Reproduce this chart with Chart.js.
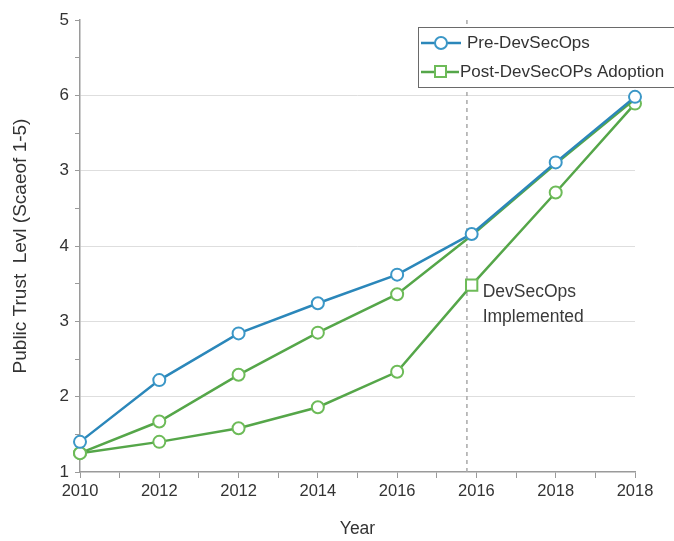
<!DOCTYPE html>
<html>
<head>
<meta charset="utf-8">
<script src="https://cdn.jsdelivr.net/npm/chart.js@4.4.1/dist/chart.umd.min.js"></script>
<style>
    html, body { margin: 0; padding: 0; background: #fff; }
    #trustChart { display: block; }
</style>
</head>
<body>
<canvas id="trustChart" width="674" height="541"></canvas>
<script>
// tick labels exactly as printed on the original figure
const xTickLabels = ['2010', '2012', '2012', '2014', '2016', '2016', '2018', '2018'];
const yTickLabels = ['1', '2', '3', '4', '3', '6', '5'];

// position of each point along the year axis (index space)
const xPositions = [0, 1, 2, 3, 4, 4.94, 6, 7];

const preDevSecOps = [1.40, 2.22, 2.84, 3.24, 3.62, 4.16, 5.11, 5.98];
const postUpper = [1.25, 1.67, 2.29, 2.85, 3.36, 4.14, 5.09, 5.95];
const postLower = [1.25, 1.40, 1.58, 1.86, 2.33, 3.48, 4.71, 5.89];

const implementedAt = 4.88;
const implementedIndex = 5;

const BLUE = '#2b87ba';
const BLUE_MARK = '#3b97c7';
const GREEN = '#55a649';
const GREEN_MARK = '#6dbb58';
const FONT = '"Liberation Sans", Arial, sans-serif';

const toPoints = (values) => values.map((y, i) => ({ x: xPositions[i], y }));

const overlayPlugin = {
    id: 'overlay',
    afterDraw(chart) {
        const { ctx, scales } = chart;
        ctx.save();

        // annotation next to the square marker
        const ax = scales.x.getPixelForValue(xPositions[implementedIndex]) + 11;
        const ay = scales.y.getPixelForValue(postLower[implementedIndex]) + 7;
        ctx.fillStyle = '#3a3a3a';
        ctx.font = '17.5px ' + FONT;
        ctx.textBaseline = 'middle';
        ctx.textAlign = 'left';
        ctx.fillText('DevSecOps', ax, ay);
        ctx.fillText('Implemented', ax, ay + 25);

        // legend box
        ctx.fillStyle = '#fff';
        ctx.fillRect(418, 27, 256, 60);
        ctx.strokeStyle = '#6a6a6a';
        ctx.lineWidth = 1;
        ctx.strokeRect(418.5, 27.5, 256, 60);

        // row 1
        ctx.strokeStyle = BLUE;
        ctx.lineWidth = 2.5;
        ctx.beginPath();
        ctx.moveTo(421, 43);
        ctx.lineTo(461, 43);
        ctx.stroke();
        ctx.beginPath();
        ctx.arc(441, 43, 6, 0, Math.PI * 2);
        ctx.fillStyle = '#fff';
        ctx.fill();
        ctx.strokeStyle = BLUE_MARK;
        ctx.lineWidth = 2;
        ctx.stroke();

        // row 2
        ctx.strokeStyle = GREEN;
        ctx.lineWidth = 2.5;
        ctx.beginPath();
        ctx.moveTo(421, 72);
        ctx.lineTo(459, 72);
        ctx.stroke();
        ctx.fillStyle = '#fff';
        ctx.fillRect(435, 66, 11, 11);
        ctx.strokeStyle = GREEN_MARK;
        ctx.lineWidth = 2;
        ctx.strokeRect(435, 66, 11, 11);

        ctx.fillStyle = '#333';
        ctx.font = '17px ' + FONT;
        ctx.fillText('Pre-DevSecOps', 467, 43);
        ctx.fillText('Post-DevSecOPs Adoption', 460, 72);

        ctx.restore();
    }
};

const pointDefaults = {
    borderWidth: 2.5,
    pointRadius: 6,
    pointBorderWidth: 2,
    pointBackgroundColor: '#fff',
    tension: 0,
    clip: false
};

new Chart(document.getElementById('trustChart'), {
    type: 'line',
    data: {
        datasets: [
            {
                ...pointDefaults,
                label: 'Pre-DevSecOps',
                data: toPoints(preDevSecOps),
                borderColor: BLUE,
                pointBorderColor: BLUE_MARK,
                order: 0
            },
            {
                ...pointDefaults,
                label: 'Post-DevSecOPs Adoption',
                data: toPoints(postUpper),
                borderColor: GREEN,
                pointBorderColor: GREEN_MARK,
                pointRadius: [6, 6, 6, 6, 6, 0, 0, 0],
                order: 1
            },
            {
                ...pointDefaults,
                label: 'Post-DevSecOPs Adoption (lagged)',
                data: toPoints(postLower),
                borderColor: GREEN,
                pointBorderColor: GREEN_MARK,
                pointStyle: postLower.map((_, i) => i === implementedIndex ? 'rect' : 'circle'),
                pointRadius: postLower.map((_, i) => i === implementedIndex ? 8 : 6),
                order: 2
            },
            {
                label: 'implemented',
                data: [{ x: implementedAt, y: 1 }, { x: implementedAt, y: 7 }],
                borderColor: '#a8a8a8',
                borderWidth: 1.5,
                borderDash: [4, 4],
                pointRadius: 0,
                order: 10
            }
        ]
    },
    options: {
        responsive: false,
        animation: false,
        layout: { padding: { top: 20, right: 39, left: 0, bottom: 0 } },
        plugins: {
            legend: { display: false },
            tooltip: { enabled: false }
        },
        scales: {
            x: {
                type: 'linear',
                min: 0,
                max: 7,
                afterFit: (scale) => { scale.height = 69; },
                ticks: {
                    stepSize: 0.5,
                    autoSkip: false,
                    maxRotation: 0,
                    padding: 4,
                    color: '#333',
                    font: { family: FONT, size: 16.5 },
                    callback: (v) => Number.isInteger(v) ? xTickLabels[v] : ''
                },
                grid: { drawOnChartArea: false, tickLength: 6, tickColor: '#9a9a9a' },
                border: { color: '#9a9a9a', width: 1.5 },
                title: {
                    display: true,
                    text: 'Year',
                    color: '#333',
                    font: { family: FONT, size: 17.5 },
                    padding: { top: 0, bottom: 1 }
                }
            },
            y: {
                min: 1,
                max: 7,
                afterFit: (scale) => { scale.width = 80; },
                ticks: {
                    stepSize: 0.5,
                    autoSkip: false,
                    padding: 6,
                    color: '#333',
                    font: { family: FONT, size: 17 },
                    callback: (v) => Number.isInteger(v) ? yTickLabels[v - 1] : ''
                },
                grid: {
                    tickLength: 5,
                    tickColor: '#9a9a9a',
                    color: (c) => (c.tick && Number.isInteger(c.tick.value) && c.tick.value >= 2 && c.tick.value <= 6)
                        ? '#dedede' : 'rgba(0,0,0,0)'
                },
                border: { color: '#9a9a9a', width: 1.5 },
                title: {
                    display: true,
                    text: 'Public Trust  Levl (Scaeof 1-5)',
                    color: '#333',
                    font: { family: FONT, size: 19 },
                    padding: { top: 9, bottom: 0 }
                }
            }
        }
    },
    plugins: [overlayPlugin]
});
</script>
</body>
</html>
